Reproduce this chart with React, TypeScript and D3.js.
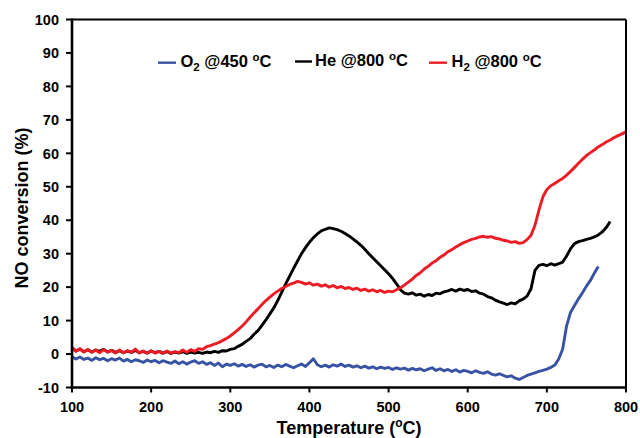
import React from "react";
import * as d3 from "d3";

const T_START = 100;
const T_STEP = 5;

const xTicks = [100, 200, 300, 400, 500, 600, 700, 800];
const yTicks = [-10, 0, 10, 20, 30, 40, 50, 60, 70, 80, 90, 100];

// O2 @450 °C, 100..765 °C every 5 °C
const o2Series = [
  -0.8, -1.5, -0.9, -1.6, -1.2, -1.9, -1.1, -1.7, -1.3, -2.0, -1.4, -1.8, -1.2, -2.1, -1.6, -2.3, -1.7, -2.0, -2.5, -1.8,
  -2.3, -1.9, -2.6, -2.0, -2.4, -2.8, -2.1, -2.9, -2.3, -3.0, -2.4, -2.0, -2.8, -2.3, -3.1, -2.6, -3.4, -2.7, -3.8, -3.0,
  -3.4, -2.9, -3.6, -3.1, -3.7, -3.2, -3.9, -3.3, -3.0, -3.8, -3.4, -4.0, -3.3, -3.8, -3.1, -3.6, -4.1, -3.5, -3.0, -3.7,
  -2.6, -1.4, -3.2, -3.8, -3.3, -3.9, -3.2, -3.6, -3.0, -3.7, -3.3, -3.9, -3.5, -4.1, -3.6, -4.2, -3.8, -4.4, -3.9, -4.3,
  -4.0, -4.6, -4.1, -4.5, -4.2, -4.8, -4.3, -4.7, -4.4, -5.0, -4.5, -4.1, -4.9, -4.4, -5.0, -4.6, -5.2, -4.7, -5.4, -4.9,
  -5.2, -5.6, -5.0, -5.5, -5.8, -5.3, -6.0, -6.3, -5.9, -6.4, -6.8, -6.5, -7.2, -7.6, -7.0, -6.4, -6.0, -5.6, -5.2, -4.9,
  -4.5, -4.0, -3.3, -1.5, 1.5, 8.5, 12.5, 14.5, 16.5, 18.3, 20.3, 22.0, 24.2, 26.2,
];

// He @800 °C, 100..780 °C every 5 °C
const heSeries = [
  1.8, 0.9, 1.5, 0.7, 1.3, 0.6, 1.2, 0.8, 1.4, 0.6, 1.1, 0.5, 1.0, 0.4, 0.9, 0.5, 1.1, 0.4, 0.8, 0.3,
  0.9, 0.4, 0.8, 0.3, 0.7, 0.2, 0.6, 0.3, 0.7, 0.2, 0.6, 0.3, 0.5, 0.2, 0.6, 0.4, 0.8, 0.5, 1.0, 0.9,
  1.4, 1.6, 2.3, 2.9, 3.8, 4.6, 5.9, 7.0, 8.6, 10.2, 12.0, 13.8, 16.0, 18.5, 21.0, 23.3, 25.6, 27.8, 30.0, 31.8,
  33.4, 34.8, 35.9, 36.8, 37.3, 37.7, 37.5, 37.2, 36.7, 36.0, 35.3, 34.4, 33.5, 32.5, 31.3, 30.0, 28.8, 27.6, 26.4, 25.2,
  24.0, 22.6, 21.0, 19.2, 18.2, 17.9, 18.3, 17.6, 17.9, 17.3, 17.8, 17.5, 18.2, 18.0, 18.6, 18.9, 19.3, 18.8, 19.4, 19.0,
  19.3, 18.7, 18.9, 18.2, 17.9, 17.2, 16.8, 16.1, 15.6, 15.2, 14.8, 15.3, 15.0, 15.9, 16.4, 17.3, 19.5, 25.0, 26.5, 26.8,
  26.4, 27.0, 26.6, 27.0, 27.5, 29.3, 31.5, 33.0, 33.6, 33.9, 34.3, 34.6, 35.0, 35.6, 36.5, 37.8, 39.6,
];

// H2 @800 °C, 100..800 °C every 5 °C
const h2Series = [
  2.0, 0.8, 1.6, 0.6, 1.4, 0.5, 1.2, 0.4, 1.3, 0.6, 1.1, 0.3, 1.2, 0.4, 1.0, 0.5, 1.5, 0.3, 0.9, 0.2,
  1.0, 0.3, 0.8, 0.2, 0.9, 0.3, 0.7, 0.4, 1.2, 0.5, 1.3, 0.8, 1.6, 1.4, 2.2, 2.5, 3.0, 3.4, 4.0, 4.6,
  5.4, 6.3, 7.3, 8.4, 9.6, 11.0, 12.3, 13.5, 14.8, 16.0, 17.0, 18.0, 18.8, 19.6, 20.2, 20.8, 21.2, 21.7, 21.4, 20.9,
  21.3, 20.6, 20.9, 20.3, 20.7, 20.0, 20.5, 19.8, 20.2, 19.6, 19.9, 19.3, 19.7, 19.0, 19.4, 18.8, 19.2, 18.6, 19.0, 18.4,
  18.8, 18.6, 19.2, 19.8, 20.6, 21.5, 22.4, 23.5, 24.3, 25.4, 26.2, 27.2, 27.9, 28.9, 29.6, 30.6, 31.2, 32.0, 32.7, 33.3,
  33.8, 34.3, 34.6, 35.0, 35.2, 34.9, 35.1, 34.6, 34.4, 34.0, 33.8, 33.4, 33.6, 33.1, 33.3, 34.2, 35.5, 38.5, 43.0, 47.0,
  49.2, 50.3, 51.0, 51.8, 52.5, 53.5, 54.6, 55.8, 57.0, 58.2, 59.3, 60.2, 61.0, 61.9, 62.6, 63.4, 64.0, 64.7, 65.3, 65.8,
  66.4,
];

const seriesList = [
  { key: "o2", values: o2Series, color: "#3953a4" },
  { key: "he", values: heSeries, color: "#000000" },
  { key: "h2", values: h2Series, color: "#ed1c24" },
];

const FONT = "'Liberation Sans', Arial, Helvetica, sans-serif";

export default function App() {
  const W = 640;
  const H = 438;
  const left = 72;
  const right = 626;
  const top = 19.5;
  const bottom = 387.5;

  const x = d3.scaleLinear().domain([100, 800]).range([left, right]);
  const y = d3.scaleLinear().domain([-10, 100]).range([bottom, top]);

  const line = d3
    .line<number>()
    .x((_, i) => x(T_START + i * T_STEP))
    .y((d) => y(d));

  return (
    <div style={{ position: "absolute", left: 0, top: 0 }}>
      <svg width={W} height={H} style={{ display: "block", background: "#fff" }} fontFamily={FONT} fontWeight="bold">
        <rect x={0} y={0} width={W} height={H} fill="#fff" />
        {seriesList.map((s) => (
          <path
            key={s.key}
            d={line(s.values) || ""}
            fill="none"
            stroke={s.color}
            strokeWidth={2.9}
            strokeLinejoin="round"
          />
        ))}
        {/* frame */}
        <line x1={left} x2={right} y1={top} y2={top} stroke="#000" strokeWidth={2} />
        <line x1={right} x2={right} y1={top} y2={bottom} stroke="#000" strokeWidth={2} />
        <line x1={left} x2={left} y1={top - 1} y2={bottom + 1.5} stroke="#000" strokeWidth={2.6} />
        <line x1={left - 1.3} x2={right + 1} y1={bottom} y2={bottom} stroke="#000" strokeWidth={2.6} />
        {/* y ticks */}
        {yTicks.map((t) => (
          <g key={"y" + t}>
            <line x1={left - 6} x2={left} y1={y(t)} y2={y(t)} stroke="#000" strokeWidth={2} />
            <text x={left - 13} y={y(t)} dy="0.36em" textAnchor="end" fontSize={14.5} fill="#000">
              {t}
            </text>
          </g>
        ))}
        {/* x ticks */}
        {xTicks.map((t) => (
          <g key={"x" + t}>
            <line x1={x(t)} x2={x(t)} y1={bottom} y2={bottom + 5} stroke="#000" strokeWidth={2} />
            <text x={x(t)} y={412} textAnchor="middle" fontSize={14.5} fill="#000">
              {t}
            </text>
          </g>
        ))}
        {/* axis titles */}
        <text x={349} y={434} textAnchor="middle" fontSize={18} fill="#000">
          Temperature (<tspan dy={-7} fontSize={12}>o</tspan>
          <tspan dy={7}>C)</tspan>
        </text>
        <text transform="translate(28,208) rotate(-90)" textAnchor="middle" fontSize={18} fill="#000">
          NO conversion (%)
        </text>
        {/* legend */}
        <g fontSize={16.5} fill="#000">
          <line x1={158} x2={176} y1={62.7} y2={62.7} stroke="#3953a4" strokeWidth={2.4} />
          <text x={180.5} y={66.7}>
            O<tspan dy={4} fontSize={11.5}>2</tspan>
            <tspan dy={-4}> @450 </tspan>
            <tspan dy={-6} fontSize={11.5}>o</tspan>
            <tspan dy={6}>C</tspan>
          </text>
          <line x1={295} x2={312} y1={61.5} y2={61.5} stroke="#000" strokeWidth={2.4} />
          <text x={315} y={65.5}>
            He @800 <tspan dy={-6} fontSize={11.5}>o</tspan>
            <tspan dy={6}>C</tspan>
          </text>
          <line x1={429} x2={447} y1={62.7} y2={62.7} stroke="#ed1c24" strokeWidth={2.4} />
          <text x={451.5} y={66.7}>
            H<tspan dy={4} fontSize={11.5}>2</tspan>
            <tspan dy={-4}> @800 </tspan>
            <tspan dy={-6} fontSize={11.5}>o</tspan>
            <tspan dy={6}>C</tspan>
          </text>
        </g>
      </svg>
    </div>
  );
}
